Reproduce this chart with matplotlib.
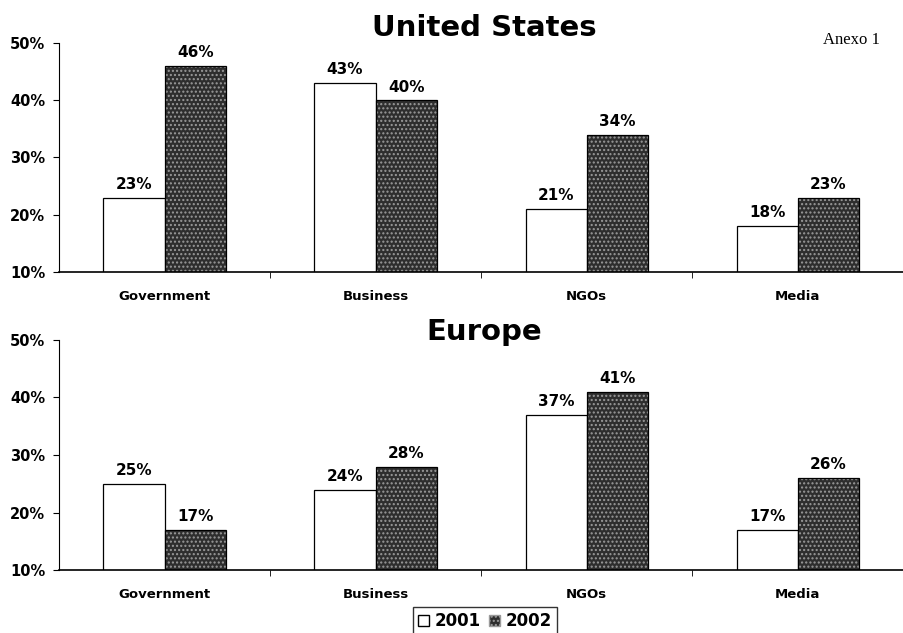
import matplotlib
matplotlib.use("Agg")
import matplotlib.pyplot as plt
import numpy as np
from matplotlib.patches import Patch

categories = ["Government", "Business", "NGOs", "Media"]
years = ["2001", "2002"]
us_2001 = [23, 43, 21, 18]
us_2002 = [46, 40, 34, 23]
eu_2001 = [25, 24, 37, 17]
eu_2002 = [17, 28, 41, 26]

plt.rcParams["font.family"] = "DejaVu Sans"
plt.rcParams["hatch.linewidth"] = 1.0

fig = plt.figure(figsize=(9.04, 6.33), dpi=100)
fig.patch.set_facecolor("white")

dark = "#2e2e2e"
dots = "#9a9a9a"
w = 0.29


def panel(ax, v1, v2):
    x = np.arange(len(categories))
    ax.bar(x - w / 2, v1, w, color="white", edgecolor="black", linewidth=0.9)
    # stippled fill for 2002, then a black outline on top
    ax.bar(x + w / 2, v2, w, color=dark, edgecolor=dots, hatch="....", linewidth=0)
    ax.bar(x + w / 2, v2, w, fill=False, edgecolor="black", linewidth=0.9)
    for xi, a, b in zip(x, v1, v2):
        ax.text(xi - w / 2, a + 1, f"{a}%", ha="center", va="bottom",
                fontsize=11, fontweight="bold")
        ax.text(xi + w / 2, b + 1, f"{b}%", ha="center", va="bottom",
                fontsize=11, fontweight="bold")
    ax.set_xlim(-0.5, len(categories) - 0.5)
    ax.set_ylim(10, 50)
    ax.set_yticks([10, 20, 30, 40, 50])
    ax.set_yticklabels([f"{t}%" for t in [10, 20, 30, 40, 50]],
                       fontsize=10.5, fontweight="bold")
    ax.set_xticks(x)
    ax.set_xticklabels(categories, fontsize=9.5, fontweight="bold")
    ax.tick_params(axis="x", length=0, pad=13)
    ax.set_xticks(x[:-1] + 0.5, minor=True)
    ax.tick_params(axis="x", which="minor", length=4, direction="out")
    ax.tick_params(axis="y", length=4, direction="out", pad=6)
    for s in ["top", "right"]:
        ax.spines[s].set_visible(False)
    ax.spines["left"].set_linewidth(0.8)
    ax.spines["bottom"].set_linewidth(1.2)


ax1 = fig.add_axes([0.0653, 0.5703, 0.934, 0.3618])
panel(ax1, us_2001, us_2002)
ax2 = fig.add_axes([0.0653, 0.0995, 0.934, 0.3634])
panel(ax2, eu_2001, eu_2002)

fig.text(0.536, 0.955, "United States", ha="center", va="center",
         fontsize=21, fontweight="bold")
fig.text(0.536, 0.475, "Europe", ha="center", va="center",
         fontsize=21, fontweight="bold")
fig.text(0.942, 0.937, "Anexo 1", ha="center", va="center",
         fontsize=12, family="Liberation Serif")

handles = [Patch(facecolor="white", edgecolor="black", label=years[0]),
           Patch(facecolor=dark, edgecolor=dots, hatch="....", label=years[1])]
leg = fig.legend(handles=handles, loc="lower center", bbox_to_anchor=(0.536, -0.017),
                 ncol=2, frameon=True, fancybox=False, edgecolor="black",
                 prop={"weight": "bold", "size": 12}, handlelength=0.7,
                 handleheight=0.7, handletextpad=0.3, columnspacing=0.5,
                 borderpad=0.3)
leg.get_frame().set_linewidth(1.0)

fig.savefig("out.png", dpi=100, facecolor="white")
